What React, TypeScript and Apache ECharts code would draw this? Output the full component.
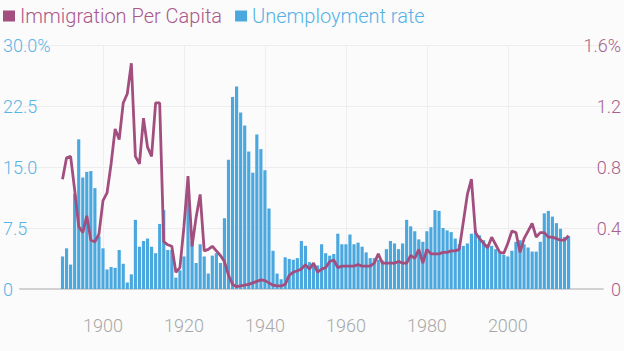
import React, { useEffect, useRef } from "react";
import * as echarts from "echarts";

const FIRST_YEAR = 1880;
const LAST_YEAR = 2023;
const DATA_START_YEAR = 1890;

const categories: string[] = [];
for (let y = FIRST_YEAR; y <= LAST_YEAR; y++) categories.push(String(y));

const labelYears = ["1900", "1920", "1940", "1960", "1980", "2000"];

// Unemployment rate (%), 1890 – 2015
const unemploymentRate = [
  4.0, 5.0, 3.0, 11.7, 18.4, 13.7, 14.4, 14.5, 12.4, 6.5,
  5.0, 2.4, 2.7, 2.6, 4.8, 3.1, 0.8, 1.8, 8.5, 5.2,
  5.9, 6.2, 5.2, 4.4, 8.0, 9.7, 4.8, 4.8, 1.4, 2.3,
  4.0, 11.9, 5.8, 3.2, 5.5, 4.0, 1.9, 4.1, 4.4, 3.2,
  8.7, 15.9, 23.6, 24.9, 21.7, 20.1, 16.9, 14.3, 19.0, 17.2,
  14.6, 9.9, 4.7, 1.9, 1.2, 3.9, 3.7, 3.6, 3.8, 5.9,
  5.3, 3.3, 3.0, 2.9, 5.5, 4.4, 4.1, 4.3, 6.8, 5.5,
  5.5, 6.7, 5.5, 5.7, 5.2, 4.5, 3.8, 3.8, 3.6, 3.5,
  4.9, 5.9, 5.6, 4.9, 5.6, 8.5, 7.7, 7.1, 6.1, 5.8,
  7.1, 7.6, 9.7, 9.6, 7.5, 7.2, 7.0, 6.2, 5.5, 5.3,
  5.6, 6.8, 7.2, 6.6, 6.0, 5.5, 5.3, 4.9, 4.5, 4.2,
  4.0, 4.7, 5.8, 6.0, 5.5, 5.1, 4.6, 4.6, 5.8, 9.3,
  9.6, 8.9, 8.1, 7.4, 6.4, 6.5,
];

// Immigration per capita (%), 1890 – 2015
const immigrationPerCapita = [
  0.72, 0.86, 0.87, 0.65, 0.41, 0.37, 0.48, 0.32, 0.31, 0.36,
  0.58, 0.63, 0.82, 1.05, 0.98, 1.22, 1.28, 1.48, 0.87, 0.82,
  1.12, 0.93, 0.87, 1.22, 1.22, 0.31, 0.29, 0.28, 0.11, 0.14,
  0.41, 0.74, 0.28, 0.47, 0.62, 0.25, 0.26, 0.28, 0.25, 0.22,
  0.18, 0.09, 0.03, 0.015, 0.02, 0.025, 0.03, 0.04, 0.05, 0.06,
  0.055, 0.04, 0.025, 0.02, 0.02, 0.03, 0.09, 0.11, 0.12, 0.13,
  0.16, 0.13, 0.17, 0.11, 0.13, 0.14, 0.18, 0.19, 0.14, 0.15,
  0.15, 0.15, 0.15, 0.16, 0.15, 0.15, 0.15, 0.17, 0.23, 0.17,
  0.17, 0.17, 0.17, 0.18, 0.17, 0.17, 0.22, 0.2, 0.26, 0.17,
  0.26, 0.23, 0.23, 0.23, 0.24, 0.24, 0.25, 0.25, 0.26, 0.44,
  0.62, 0.72, 0.37, 0.33, 0.3, 0.27, 0.34, 0.29, 0.24, 0.235,
  0.3, 0.38, 0.37, 0.24, 0.33, 0.38, 0.43, 0.34, 0.37, 0.37,
  0.34, 0.34, 0.33, 0.32, 0.32, 0.35,
];

const leftTickLabels: Record<string, string> = { "0": "0", "7.5": "7.5", "15": "15.0", "22.5": "22.5", "30": "30.0%" };
const rightTickLabels: Record<string, string> = { "0": "0", "0.4": "0.4", "0.8": "0.8", "1.2": "1.2", "1.6": "1.6%" };

function pad(values: number[]): (number | null)[] {
  const out: (number | null)[] = categories.map(() => null);
  values.forEach((v, i) => {
    out[DATA_START_YEAR - FIRST_YEAR + i] = v;
  });
  return out;
}

const FONT = "Roboto";
const BLUE = "#4ba8df";
const PURPLE = "#a24e7e";

export default function App() {
  const ref = useRef<HTMLDivElement>(null);
  useEffect(() => {
    if (!ref.current) return;
    const chart = echarts.init(ref.current, null, { renderer: "svg" });
    const showYear = (_i: number, v: string) => labelYears.includes(String(v));
    chart.setOption({
      animation: false,
      backgroundColor: "#fbfbfb",
      legend: {
        left: 0,
        top: 0,
        padding: [6, 5, 5, 3],
        icon: "rect",
        itemWidth: 12,
        itemHeight: 11,
        itemGap: 13,
        textStyle: { fontSize: 20, fontFamily: FONT, fontWeight: 300 },
        data: [
          { name: "Immigration Per Capita", textStyle: { color: "#a9588a" } },
          { name: "Unemployment rate", textStyle: { color: "#56b2e6" } },
        ],
      },
      grid: { left: 20, right: 21, top: 45, bottom: 62, containLabel: false },
      xAxis: {
        type: "category",
        data: categories,
        boundaryGap: true,
        axisLine: { show: true, lineStyle: { color: "#d2d2d2", width: 2 } },
        axisTick: { show: false },
        axisLabel: {
          interval: showYear,
          color: "#a8a8a8",
          fontSize: 18,
          fontFamily: FONT,
          fontWeight: 300,
          margin: 27,
        },
        splitLine: {
          show: true,
          interval: showYear,
          alignWithLabel: true,
          lineStyle: { color: "#eeeeee", width: 1 },
        },
      },
      yAxis: [
        {
          type: "value",
          position: "left",
          min: 0,
          max: 30,
          interval: 7.5,
          axisLine: { show: false },
          axisTick: { show: false },
          axisLabel: {
            align: "left",
            margin: 17,
            color: "#5ab4e4",
            fontSize: 18,
            fontFamily: FONT,
            fontWeight: 300,
            formatter: (v: number) => leftTickLabels[String(v)] ?? String(v),
          },
          splitLine: { show: true, lineStyle: { color: "#ededed", width: 1 } },
        },
        {
          type: "value",
          position: "right",
          min: 0,
          max: 1.6,
          interval: 0.4,
          axisLine: { show: false },
          axisTick: { show: false },
          axisLabel: {
            align: "right",
            margin: 18,
            color: "#a6628b",
            fontSize: 18,
            fontFamily: FONT,
            fontWeight: 300,
            formatter: (v: number) => rightTickLabels[String(Math.round(v * 10) / 10)] ?? String(v),
          },
          splitLine: { show: false },
        },
      ],
      series: [
        {
          name: "Unemployment rate",
          type: "bar",
          data: pad(unemploymentRate),
          barCategoryGap: "22%",
          itemStyle: { color: BLUE },
          z: 2,
        },
        {
          name: "Immigration Per Capita",
          type: "line",
          yAxisIndex: 1,
          data: pad(immigrationPerCapita),
          symbol: "none",
          lineStyle: { color: PURPLE, width: 2.8 },
          itemStyle: { color: PURPLE },
          z: 3,
        },
      ],
    });
    return () => chart.dispose();
  }, []);
  return <div ref={ref} style={{ position: "absolute", left: 0, top: 0, width: 624, height: 351 }} />;
}
